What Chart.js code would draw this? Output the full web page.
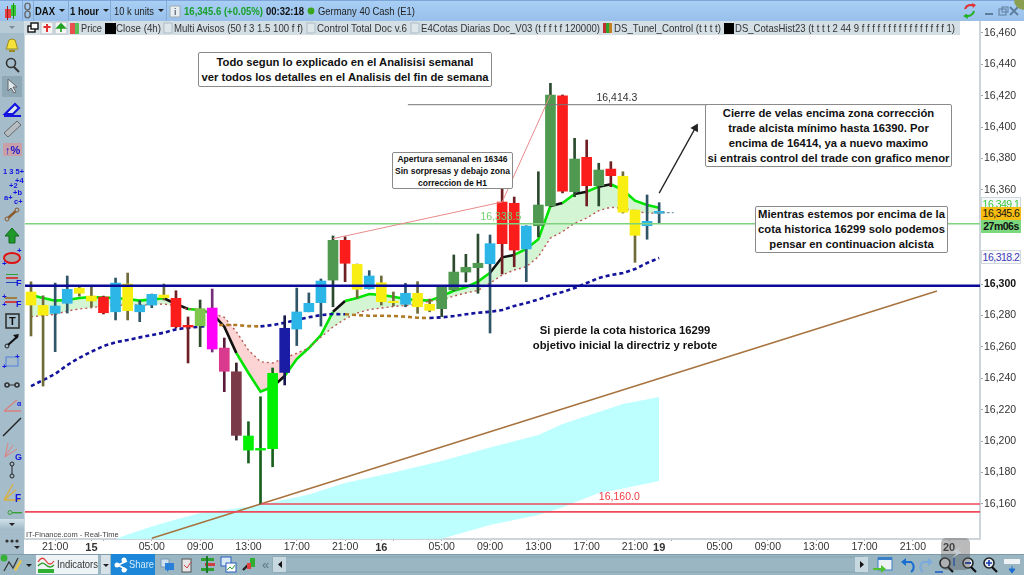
<!DOCTYPE html>
<html>
<head>
<meta charset="utf-8">
<script src="https://cdn.jsdelivr.net/npm/chart.js@4"></script>
<style>
html, body { margin: 0; padding: 0; background: #fff; width: 1024px; height: 575px; overflow: hidden; font-family: "Liberation Sans", Arial, sans-serif; }
canvas { position: absolute; left: 0; top: 0; }
svg#chrome { position: absolute; left: 0; top: 0; pointer-events: none; }
.note { position: absolute; box-sizing: border-box; background: #fff; border: 1px solid #8a8a8a; border-radius: 2px; color: #111; font-weight: bold; text-align: center; font-size: 11.25px; line-height: 15px; display: flex; align-items: center; justify-content: center; white-space: nowrap; }
.tag { position: absolute; left: 981px; width: 40px; box-sizing: border-box; font-size: 10.5px; letter-spacing: -0.5px; text-align: center; white-space: nowrap; }
</style>
</head>
<body>
<canvas id="dax" width="1024" height="575"></canvas>
<svg id="chrome" width="1024" height="575" font-family="Liberation Sans, Arial, sans-serif"></svg>

<div class="note" style="left:198px;top:52px;width:294px;height:35px">Todo segun lo explicado en el Analisisi semanal<br>ver todos los detalles en el Analisis del fin de semana</div>
<div class="note" style="left:392px;top:152px;width:121px;height:37px;font-size:8.5px;line-height:12px">Apertura semanal en 16346<br>Sin sorpresas y debajo zona<br>correccion de H1</div>
<div class="note" style="left:705px;top:104px;width:247px;height:63px">Cierre de velas encima zona corrección<br>trade alcista mínimo hasta 16390. Por<br>encima de 16414, ya a nuevo maximo<br>si entrais control del trade con grafico menor</div>
<div class="note" style="left:755px;top:206px;width:193px;height:47px">Mientras estemos por encima de la<br>cota historica 16299 solo podemos<br>pensar en continuacion alcista</div>
<div class="note" style="left:528px;top:321px;width:194px;height:34px;border:0;background:transparent">Si pierde la cota historica 16299<br>objetivo inicial la directriz y rebote</div>

<div class="tag" style="top:197px;height:12px;line-height:13px;color:#3ec83e;background:#f4f8f8;border:1px solid #cfd8dc;border-bottom:0;overflow:hidden">16,349.1</div>
<div class="tag" style="top:207px;height:13px;line-height:13px;background:#f6bc12;color:#111">16,345.6</div>
<div class="tag" style="top:220px;height:13px;line-height:13px;background:#7cd87c;color:#111;font-weight:bold">27m06s</div>
<div class="tag" style="top:250px;height:14px;line-height:12px;color:#3a3ab8;background:#fafafa;border:1px solid #cfd8dc">16,318.2</div>
<div style="position:absolute;left:26px;top:530px;font-size:7.5px;line-height:9px;color:#444">IT-Finance.com - Real-Time</div>

<script>
// DAX 1 hour candles
const high = [16301.5,16292.6,16300.7,16305.2,16298.2,16298.2,16292.4,16303.9,16307.1,16289.5,16293.7,16300.1,16295.8,16279.1,16289.9,16296.9,16265.7,16249.8,16212.4,16228.3,16246.6,16279.9,16297.5,16294.4,16303.3,16330.7,16330.2,16312.8,16308.6,16305.2,16295.0,16300.5,16301.6,16290.5,16298.2,16318.6,16319.0,16331.9,16331.3,16360.6,16355.5,16337.2,16371.6,16427.9,16420.5,16392.9,16391.8,16377.0,16378.0,16371.6,16347.2,16356.8,16351.9];
const low = [16267.0,16235.1,16257.0,16281.6,16292.4,16285.4,16281.0,16277.2,16277.2,16276.1,16285.0,16289.9,16272.1,16249.8,16260.2,16256.8,16231.5,16200.7,16186.1,16160.0,16183.7,16235.8,16260.9,16282.4,16273.3,16285.6,16301.6,16291.2,16296.9,16286.7,16286.1,16285.6,16281.4,16282.4,16279.3,16295.8,16301.4,16294.2,16268.9,16306.5,16311.1,16301.6,16330.2,16349.3,16358.1,16355.7,16349.8,16349.8,16362.1,16345.3,16313.9,16328.6,16339.1];
const bodyTop = [16295.0,16286.5,16286.1,16296.7,16297.5,16292.4,16291.8,16300.7,16300.1,16286.7,16293.5,16293.1,16291.0,16273.8,16284.4,16284.8,16259.3,16244.2,16203.3,16195.4,16243.2,16271.9,16282.3,16287.8,16302.0,16327.9,16327.9,16312.6,16305.2,16300.9,16289.1,16294.2,16294.2,16287.2,16298.0,16307.7,16310.7,16313.3,16325.8,16352.3,16351.5,16337.0,16350.4,16420.5,16420.0,16379.7,16380.8,16372.7,16373.3,16368.7,16347.2,16340.0,16346.4];
const bodyBot = [16286.7,16280.3,16281.4,16287.8,16294.2,16289.3,16281.8,16282.4,16283.1,16282.4,16286.7,16291.4,16272.9,16272.7,16273.5,16258.7,16244.5,16203.7,16194.3,16194.3,16195.2,16243.8,16271.4,16282.4,16288.2,16302.6,16313.3,16296.7,16297.1,16288.8,16288.2,16287.2,16285.6,16283.3,16284.4,16296.3,16307.7,16310.5,16313.0,16325.8,16321.7,16322.4,16337.2,16349.8,16359.3,16358.9,16362.7,16362.7,16369.1,16345.8,16331.1,16337.2,16345.1];
const candleKinds = 'YYBBYYRBYBBYRRLMPDVVVNBBBGRYBYYBYYGGGGBRRBGGRGRGRYYBB'.split('');

const bodyColors = { Y:'#f9ee12', B:'#2cb6e8', R:'#fb1c1c', G:'#4f9a50', L:'#7ec64e', M:'#ff00f8', P:'#d93a8d', D:'#7b3a47', V:'#00f000', N:'#1b1ca6' };
const wickColors = { Y:'#6f6c3a', B:'#2f5566', R:'#6e1f24', G:'#2c4a2e', L:'#2f4a2a', M:'#76307a', P:'#5a1a3a', D:'#33222a', V:'#18601c', N:'#18184e' };

// moving lines
const fastLine = [16293.1,16291.2,16289.5,16289.9,16291.2,16291.8,16291.4,16291.2,16290.5,16289.5,16290.3,16291.0,16287.4,16284.2,16283.5,16281.4,16272.9,16256.1,16243.4,16231.5,16234.7,16241.5,16252.3,16259.3,16267.6,16282.4,16289.3,16291.2,16293.7,16293.1,16292.0,16290.5,16289.9,16289.5,16292.4,16295.8,16298.0,16301.6,16307.3,16317.1,16318.6,16322.4,16328.6,16349.8,16351.7,16357.4,16358.9,16362.1,16363.6,16360.0,16353.2,16350.4,16348.7];
const slowLine = [16279.3,16279.9,16280.8,16282.9,16284.2,16285.0,16286.1,16286.5,16286.7,16286.7,16286.9,16287.4,16286.1,16284.2,16284.0,16281.4,16278.9,16269.7,16258.0,16250.6,16249.8,16253.0,16256.0,16259.3,16266.3,16272.7,16277.8,16281.6,16283.8,16284.8,16285.8,16286.4,16287.0,16289.3,16289.9,16292.4,16294.4,16296.0,16300.7,16305.8,16309.0,16311.1,16317.5,16329.4,16333.4,16338.8,16342.1,16346.8,16349.0,16348.3,16346.6,16345.1,16345.5];
const tunnelLine = [16235.1,16238.9,16242.8,16248.5,16253.1,16257.0,16260.6,16263.0,16264.4,16266.1,16267.6,16269.1,16271.2,16272.3,16272.9,16274.0,16274.0,16274.0,16273.3,16273.1,16274.0,16275.4,16277.2,16278.9,16280.3,16281.0,16280.8,16280.3,16279.9,16279.9,16279.7,16279.3,16278.6,16278.4,16278.9,16279.7,16280.8,16281.8,16282.4,16283.5,16286.1,16288.0,16290.2,16293.1,16295.0,16297.5,16300.7,16303.9,16305.8,16307.1,16309.6,16313.5,16316.7];
const fastBlackSegments = [11,12,15,16,20,25,38,39,43,45,47];
const tunnelBrownSegments = [15,16,17,18,26,27,28,29,30,31,32];

// light blue band
const bandIdx = [7,8,10,12,14,16,19,23,26,30,34,38,42,44,47,49,52];
const bandTop = [16137.7,16140.5,16145.6,16150.1,16154.2,16156.1,16159.3,16166.0,16173.3,16180.0,16187.3,16196.0,16203.9,16210.9,16218.6,16223.7,16228.1];
const bandBot = [16137.7,16137.7,16137.7,16137.7,16137.7,16137.7,16137.7,16137.7,16137.7,16137.7,16137.9,16146.6,16153.0,16158.0,16167.0,16169.8,16174.6];

// drawn levels and lines
const levelHistoric = 16299;
const levelGreen = 16338.5;
const levelHigh = 16414.3;
const levelLow = 16160;
const levelRed = 16155;
const lastPrice = 16345.6;
const trendIdx = [10, 75];
const trendVal = [16138.2, 16295.6];
const pinkIdx = [25, 39, 43];
const pinkVal = [16329, 16352.3, 16420.5];
const arrowIdx = [52, 55];
const arrowVal = [16358, 16399.5];

// axes
const priceTicks = [16460,16440,16420,16400,16380,16360,16300,16280,16260,16240,16220,16200,16180,16160];
const timeIdx = [2,5,6,10,14,18,22,26,29,30,34,38,42,46,50,52,53,57,61,65,69,73,76];
const timeLabels = ['21:00','15','','05:00','09:00','13:00','17:00','21:00','16','','05:00','09:00','13:00','17:00','21:00','19','','05:00','09:00','13:00','17:00','21:00','20'];
const dayLabels = ['15','16','19','20'];

function pts(xs, ys) { return xs.map((x, i) => ({ x: x, y: ys[i] })); }
function flat(x0, x1, v) { return [{ x: x0, y: v }, { x: x1, y: v }]; }
const idxAll = high.map((v, i) => i);
const xMin = -0.58, xMax = 78.56;
const yMin = 16137.7, yMax = 16467.6;
const axisFamily = '"Liberation Sans", Arial, sans-serif';

function isDayTick(c) {
    return !!c.tick && dayLabels.includes(timeLabels[timeIdx.indexOf(c.tick.value)]);
}
function isBoldPrice(c) {
    return !!c.tick && c.tick.value === 16300;
}
function plainLine(data, color, width, order, extra) {
    return Object.assign({ type: 'line', data: data, borderColor: color, borderWidth: width, pointRadius: 0, tension: 0, fill: false, order: order }, extra || {});
}

const datasets = [
    plainLine(pts(bandIdx, bandTop), 'rgba(0,0,0,0)', 0, 100, { fill: '+1', backgroundColor: '#bdffff' }),
    plainLine(pts(bandIdx, bandBot), 'rgba(0,0,0,0)', 0, 101),
    plainLine(pts(trendIdx, trendVal), '#a8733f', 1.6, 90),
    // cloud between the two lines, kept apart from the coloured line so it has no seams
    plainLine(pts(idxAll, fastLine), 'rgba(0,0,0,0)', 0, 55, {
        fill: { target: '+2', above: 'rgba(170,235,170,0.5)', below: 'rgba(250,170,170,0.5)' }
    }),
    plainLine(pts(idxAll, fastLine), '#00e400', 2.6, 50, {
        segment: { borderColor: c => fastBlackSegments.includes(c.p0DataIndex) ? '#111' : '#00e400' }
    }),
    plainLine(pts(idxAll, slowLine), '#b85a52', 1.4, 49, { borderDash: [2, 3] }),
    plainLine(pts(idxAll, tunnelLine), '#12129a', 2.6, 48, {
        borderDash: [4, 3],
        segment: { borderColor: c => tunnelBrownSegments.includes(c.p0DataIndex) ? '#b07a25' : '#12129a' }
    }),
    {
        type: 'bar', data: idxAll.map(i => ({ x: i, y: [low[i], high[i]] })), barThickness: 2, grouped: false, order: 20,
        backgroundColor: candleKinds.map(k => wickColors[k])
    },
    {
        type: 'bar', data: idxAll.map(i => ({ x: i, y: [bodyBot[i], bodyTop[i]] })), barThickness: 10, grouped: false, order: 10,
        backgroundColor: candleKinds.map(k => bodyColors[k])
    },
    plainLine(pts(pinkIdx, pinkVal), '#e88a8a', 1, 6),
    plainLine(flat(xMin, xMax, levelGreen), '#7fd27f', 1.6, 7),
    plainLine(flat(31.2, 66.5, levelHigh), '#777', 1, 5),
    plainLine(flat(19, xMax, levelLow), '#ee4a5a', 1.6, 5),
    plainLine(flat(xMin, xMax, levelRed), '#ee4a5a', 1.6, 5),
    plainLine(flat(xMin, xMax, levelHistoric), '#0a0a96', 2.6, 4),
    plainLine(flat(51.8, 53.2, lastPrice), '#7a9aaa', 1.2, 3, { borderDash: [3, 2] }),
    plainLine(pts(arrowIdx, arrowVal), '#222', 1.3, 2, {
        pointStyle: 'triangle', pointRotation: 29, backgroundColor: '#222', pointBorderWidth: 0,
        pointRadius: c => c.dataIndex === 1 ? 5 : 0
    })
];

// price notes next to the drawn levels
const noteTexts = ['16,414.3', '16,160.0', '16,338.5'];
const noteIdx = [48.5, 48.7, 38.9];
const noteVal = [levelHigh + 4.4, levelLow + 4.3, levelGreen + 4.2];
const noteColors = ['#333', '#f03a40', '#6fd06f'];
const levelNotes = {
    id: 'levelNotes',
    afterDatasetsDraw(chart) {
        const c = chart.ctx;
        c.save();
        c.font = '10.5px ' + axisFamily;
        c.textAlign = 'center';
        c.textBaseline = 'middle';
        noteTexts.forEach((t, i) => {
            c.fillStyle = noteColors[i];
            c.fillText(t, chart.scales.x.getPixelForValue(noteIdx[i]), chart.scales.y.getPixelForValue(noteVal[i]));
        });
        c.restore();
    }
};

new Chart(document.getElementById('dax').getContext('2d'), {
    data: { datasets: datasets },
    plugins: [levelNotes],
    options: {
        responsive: false,
        animation: false,
        devicePixelRatio: 1,
        layout: { padding: { left: 24, top: 21, right: 0, bottom: 21 } },
        plugins: { legend: { display: false }, tooltip: { enabled: false } },
        elements: { bar: { borderWidth: 0, borderSkipped: false } },
        scales: {
            x: {
                type: 'linear', min: xMin, max: xMax, offset: false,
                grid: { display: true, offset: false, drawOnChartArea: false, tickLength: 2, color: '#9aa9b2' },
                border: { color: '#cdd5da', width: 2 },
                afterFit: s => { s.height = 15; s.paddingLeft = 0; s.paddingRight = 0; },
                afterBuildTicks: s => { s.ticks = timeIdx.map(v => ({ value: v })); },
                ticks: {
                    autoSkip: false, maxRotation: 0, padding: 0, color: '#333',
                    font: c => ({ family: axisFamily, size: isDayTick(c) ? 11 : 10.5, weight: isDayTick(c) ? 'bold' : 'normal' }),
                    callback: v => timeLabels[timeIdx.indexOf(v)]
                }
            },
            y: {
                type: 'linear', position: 'right', min: yMin, max: yMax,
                grid: { display: true, drawOnChartArea: false, tickLength: 3, color: '#9aa9b2' },
                border: { color: '#cdd5da', width: 2 },
                afterFit: s => { s.width = 44; s.paddingTop = 0; s.paddingBottom = 0; },
                afterBuildTicks: s => { s.ticks = priceTicks.map(v => ({ value: v })); },
                ticks: {
                    autoSkip: false, padding: 1, color: c => isBoldPrice(c) ? '#111' : '#333',
                    font: c => ({ family: axisFamily, size: 10.5, weight: isBoldPrice(c) ? 'bold' : 'normal' }),
                    callback: v => v.toLocaleString('en-US')
                }
            }
        }
    }
});

// ---- window furniture around the chart
const legendItems = [
    ['Price', 81, 21], ['Close (4h)', 116, 45], ['Multi Avisos (50 f 3 1.5 100 f f)', 174, 129],
    ['Control Total Doc v.6', 317, 90], ['E4Cotas Diarias Doc_V03 (t f f t f 120000)', 421, 179],
    ['DS_Tunel_Control (t t t t)', 614, 107], ['DS_CotasHist23 (t t t t 2 44 9 f f f f f f f f f f f f f f f f 1)', 735, 220]
];
const svgText = (t, x, y, w, size, fill, bold) => `<text x="${x}" y="${y}" font-size="${size}" fill="${fill}"${bold ? ' font-weight="bold"' : ''}${w ? ` textLength="${w}" lengthAdjust="spacingAndGlyphs"` : ''}>${t}</text>`;
const box = (x, y, w, h, fill, extra) => `<rect x="${x}" y="${y}" width="${w}" height="${h}" fill="${fill}" ${extra || ''}/>`;
const chev = (x, y, c) => `<path d="M${x} ${y}h6l-3 3z" fill="${c || '#222'}"/>`;

let s = '<defs>' +
    '<linearGradient id="topg" x1="0" y1="0" x2="0" y2="1"><stop offset="0" stop-color="#a9cff5"/><stop offset="1" stop-color="#98c0ea"/></linearGradient>' +
    '<linearGradient id="btn" x1="0" y1="0" x2="0" y2="1"><stop offset="0" stop-color="#cfe0e8"/><stop offset="1" stop-color="#9fb9c6"/></linearGradient>' +
    '</defs>';
// top bar
s += box(0, 0, 1024, 21, 'url(#topg)') + box(0, 0, 1024, 1, '#7ea6d8');
s += box(5, 9, 6, 9, '#e84040') + box(11, 5, 5, 11, '#36c836') + box(7, 6, 1, 14, '#a02020') + box(13, 3, 1, 16, '#1a8a1a');
s += '<path d="M25 5a2.6 2.6 0 0 1 5 0v3a2.6 2.6 0 0 1-5 0zM25 13a2.6 2.6 0 0 1 5 0v3a2.6 2.6 0 0 1-5 0z" fill="none" stroke="#666" stroke-width="1.4"/>';
[22, 33, 68, 110, 166].forEach(x => { s += box(x, 1, 1, 20, '#86aad6'); });
s += svgText('DAX', 35, 15, 20, 11, '#111', true) + chev(59, 9);
s += svgText('1 hour', 70, 15, 29, 11, '#111', true) + chev(103, 9);
s += svgText('10 k units', 114, 15, 40, 11, '#222') + chev(158, 9);
s += box(170, 6, 10, 11, '#e6eef2', 'stroke="#a0aab0"') + svgText('i', 174, 15, 0, 9, '#667', true);
s += svgText('16,345.6 (+0.05%)', 184, 15, 79, 11, '#18a02a', true);
s += svgText('00:32:18', 266, 15, 38, 11, '#111', true);
s += '<circle cx="311" cy="11" r="3.4" fill="#3aa51e"/>';
s += svgText('Germany 40 Cash (E1)', 318, 15, 97, 11, '#222');
// window buttons top right
s += '<path d="M965 9a6 6 0 0 1 9-3" fill="none" stroke="#e03030" stroke-width="2"/><path d="M972 3l4 2-3 3z" fill="#e03030"/>';
s += '<path d="M974 11a6 6 0 0 1-9 4" fill="none" stroke="#22b022" stroke-width="2"/><path d="M968 19l-5-3 4-2z" fill="#22b022"/>';
s += box(985, 13, 8, 2, '#5c7c9c') + box(999, 9, 7, 6, 'none', 'stroke="#5c7c9c"') + box(1002, 7, 6, 5, 'none', 'stroke="#5c7c9c"');
s += '<path d="M1010 7l8 8M1018 7l-8 8" stroke="#5c7c9c" stroke-width="1.8"/>';
s += '<path d="M1014 0h10v10a10 10 0 0 1-10-10z" fill="#8aa050"/>';
// legend strip
s += box(24, 21, 936, 14, '#d3dfe5');
s += box(28, 26, 7, 6, '#fff', 'stroke="#111" stroke-width="1.4"') + box(31, 23, 7, 6, '#fff', 'stroke="#111" stroke-width="1.4"');
s += box(41, 22, 12, 12, '#f4f4f4', 'stroke="#b8c4cc"') + '<path d="M47 24v8M43.5 27h7" stroke="#e03030" stroke-width="2"/>';
s += box(55, 22, 12, 12, '#f4f4f4', 'stroke="#b8c4cc"') + '<path d="M61 32v-5M57 28l4-4 4 4z" stroke="#20a020" stroke-width="1.6" fill="#20a020"/>';
s += box(70, 23, 5, 11, '#e85050') + box(75, 23, 4, 11, '#58c058');
legendItems.forEach((it, i) => {
    s += svgText(it[0], it[1], 32, it[2], 10.5, '#333');
    if (i) s += box(it[1] - 3, 21, 1, 14, '#eef3f6');
});
s += box(105, 23, 11, 11, '#000');
[164, 307, 411].forEach(x => { s += box(x, 23, 8, 10, '#dde6eb', 'stroke="#b0bcc4"'); });
s += box(603, 23, 3, 10, '#c03030') + box(606, 23, 3, 10, '#30a030') + box(609, 23, 3, 10, '#c08020');
s += box(724, 23, 10, 11, '#000');
// left tools
s += box(0, 21, 24, 518, '#a5bdcb') + box(24, 35, 1, 504, '#c8d6dd');
const ink = 'fill="none" stroke="#333" stroke-width="1.6"';
s += box(0, 21, 24, 12, '#b6cbd6') + chev(9, 26, '#7c8c94');
s += '<path d="M6 49q1-1 2-6a4 4 0 0 1 8 0q1 5 2 6z" fill="#f6e23a" stroke="#9a8a20"/>' + box(9, 50, 6, 2, '#9a8a20');
s += `<circle cx="11" cy="63" r="4.5" ${ink}/><path d="M14 67l5 5" stroke="#333" stroke-width="2"/>`;
s += box(2, 76, 20, 21, '#8fa8b6') + '<path d="M8 79l0 12 3-3 3 5 2-1-3-5h4z" fill="#dfe8ec" stroke="#666"/>';
s += '<path d="M5 114l10-10 4 4-6 6zM4 116h17" stroke="#1414e0" stroke-width="2.2" fill="#dfe8ec"/>';
s += '<path d="M4 133l13-12 4 4-13 12z" fill="#b5bdc2" stroke="#666"/>';
s += box(3, 143, 19, 13, '#c9a0a8') + svgText('↑%', 5, 154, 0, 11, '#1414d0', true);
s += svgText('1 3 5+', 3, 174, 0, 7.5, '#1414e0', true) + svgText('+4', 15, 183, 0, 7.5, '#1414e0', true) + svgText('+2', 9, 188, 0, 7.5, '#1414e0', true) + svgText('+b', 13, 195, 0, 7.5, '#1414e0', true) + svgText('a+', 4, 200, 0, 7.5, '#1414e0', true) + svgText('c+', 14, 204, 0, 7.5, '#1414e0', true);
s += '<path d="M7 219l10-9" stroke="#8a5a2a" stroke-width="2.4"/><circle cx="7" cy="219" r="2" fill="#a5bdcb" stroke="#8a5a2a"/><circle cx="17" cy="210" r="2" fill="#a5bdcb" stroke="#8a5a2a"/>';
s += '<path d="M12 228l7 8h-4v7h-6v-7h-4z" fill="#1f9a2a" stroke="#136a1a"/>';
s += '<ellipse cx="12" cy="258" rx="8" ry="5" fill="#a8a8a8" stroke="#e01010" stroke-width="2"/>' + svgText('+', 17, 253, 0, 8, '#1414e0', true) + svgText('+', 2, 266, 0, 8, '#1414e0', true);
s += box(6, 274, 12, 1, '#30a030') + box(6, 277, 12, 2, '#d04040') + box(6, 282, 12, 1, '#2040c0') + svgText('F', 16, 286, 0, 9, '#1414e0', true);
s += box(5, 297, 12, 2, '#a08040') + box(5, 301, 12, 2, '#d04040') + svgText('F', 16, 307, 0, 9, '#1414e0', true) + svgText('+', 2, 299, 0, 8, '#1414e0', true) + svgText('+', 2, 307, 0, 8, '#1414e0', true);
s += box(6, 314, 13, 14, 'none', 'stroke="#333" stroke-width="1.6"') + svgText('T', 9, 325, 0, 11, '#111', true);
s += '<circle cx="7" cy="346" r="2" fill="none" stroke="#222"/><path d="M8 345l10-9" stroke="#111" stroke-width="2"/><path d="M19 334l-6 1 4 4z" fill="#111"/>';
s += box(6, 357, 12, 9, 'none', `stroke="#5080d8"`) + svgText('+', 2, 369, 0, 8, '#1414e0', true) + svgText('+', 15, 359, 0, 8, '#1414e0', true);
s += `<circle cx="7" cy="385" r="2" ${ink}/><circle cx="17" cy="385" r="2" ${ink}/><path d="M9 385h6" stroke="#333"/>`;
s += '<path d="M4 411l13-11M4 411h17" stroke="#d88080" stroke-width="1.4" fill="none"/>' + svgText('α', 17, 406, 0, 7, '#1414e0', true);
s += '<path d="M3 436l18-18" stroke="#222" stroke-width="1.4"/>';
s += '<path d="M5 457l8-12M5 457l12-8M5 457l3-14" stroke="#e08080" stroke-width="1"/>' + svgText('G', 15, 460, 0, 9, '#1414e0', true);
s += `<circle cx="12" cy="464" r="2" fill="none" stroke="#222"/><circle cx="12" cy="476" r="2" fill="none" stroke="#222"/><path d="M12 466v8" stroke="#222"/>`;
s += '<path d="M4 500l9-16M4 500l12-10M4 500h16" stroke="#d8b040" stroke-width="1.4"/>' + svgText('F', 15, 502, 0, 10, '#1414e0', true);
s += '<circle cx="10" cy="512.5" r="2" fill="none" stroke="#36a036"/>' + box(12, 512, 10, 1.4, '#36a036');
s += box(0, 519, 24, 11, 'url(#btn)') + chev(9, 523);
s += box(0, 530, 24, 24, '#a5bdcb');
s += '<circle cx="7" cy="541" r="1.6" fill="#333"/><circle cx="12" cy="541" r="1.6" fill="#333"/><circle cx="17" cy="541" r="1.6" fill="#333"/>' + chev(14, 546);
// bottom tools
s += box(0, 554, 1024, 21, '#9ab6c3') + box(0, 554, 1024, 1, '#7f9aa8');
s += '<circle cx="4" cy="558" r="3.5" fill="#38b038"/><path d="M4 571l5-9 4 6 5-10" fill="none" stroke="#333" stroke-width="1.2"/><path d="M14 570l6-10 2 1-6 10z" fill="#e8c840"/>' + chev(26, 564);
s += box(36, 555, 62, 19, '#eef3f5');
s += '<path d="M38 562q4-7 8-1t8 0" fill="none" stroke="#e04040" stroke-width="1.3"/><path d="M38 566q4-5 8-1t8 0" fill="none" stroke="#30a030" stroke-width="1.3"/>' + box(38, 569, 16, 4, '#30b030');
s += svgText('Indicators', 57, 568, 41, 11, '#333');
s += box(101, 555, 9, 19, '#d6e2e8') + chev(103, 564);
s += box(111, 554, 44, 21, '#1c86d8');
s += '<path d="M127 561l-9 4 9 5" fill="none" stroke="#fff" stroke-width="1.6"/><circle cx="124" cy="560" r="2.5" fill="#fff"/><circle cx="117" cy="565" r="2.5" fill="#fff"/><circle cx="124" cy="570" r="2.5" fill="#fff"/>';
s += svgText('Share', 129, 568, 25, 11, '#d5ecfb');
s += '<path d="M161 559h8v8h-8z" fill="#cfe0ee" stroke="#7a9ab4"/><path d="M165 563h9v7h-5l-2 2v-2h-2z" fill="#2a80d8"/>';
s += box(182, 559, 9, 13, '#e6e6e6', 'stroke="#555"') + '<path d="M184 565l3 3 4-6" stroke="#d04040" fill="none"/>';
s += box(201, 558, 13, 3, '#30a030') + box(205, 563, 10, 3, '#d04040') + box(201, 568, 13, 3, '#30a030') + box(206, 556, 2, 17, '#1a7a2a');
s += box(221, 557, 10, 9, '#d8e8f4', 'stroke="#2a60c0"') + box(226, 563, 10, 9, '#fff', 'stroke="#2a60c0"') + '<path d="M227 570l3-3 2 2 3-4" stroke="#30a030" fill="none"/>';
s += '<path d="M243 570l5-5" stroke="#222" stroke-width="2.4"/>' + box(250, 558, 5, 9, '#30b030') + box(247, 563, 4, 6, '#e04040');
s += svgText('«', 262, 569, 0, 13, '#5a7888');
s += box(273, 557, 590, 15, '#9ab6c3', 'stroke="#86a2b0"') + box(273, 557, 13, 15, '#c8d8e0') + '<path d="M282 561v7l-4-3.5z" fill="#111"/>';
s += box(855, 557, 13, 15, '#c8d8e0') + '<path d="M860 561v7l4-3.5z" fill="#111"/>';
s += box(878, 558, 14, 12, '#eef2f4', 'stroke="#3a80c8"') + box(878, 557, 14, 3, '#3a80c8') + '<path d="M873 568h8v-3l5 4-5 4v-3h-8z" fill="#50c030"/>';
s += '<path d="M911 572a6 6 0 0 0 0-10h-7" fill="none" stroke="#1a6ed0" stroke-width="2"/><path d="M901 562l5-4v8z" fill="#1a6ed0"/>';
s += '<path d="M923 572a6 6 0 0 1 0-10h7" fill="none" stroke="#7aaadc" stroke-width="2"/><path d="M933 562l-5-4v8z" fill="#7aaadc"/>';
const zoomIcon = (x, sign) => `<circle cx="${x}" cy="563" r="5" fill="#e8eef2" stroke="#222" stroke-width="1.6"/><path d="M${x + 3} 567l5 5" stroke="#111" stroke-width="2.2"/>` + sign;
s += zoomIcon(945, '<path d="M935 572h8M954 558v8" stroke="#1a5ad0" stroke-width="1.6"/>');
s += zoomIcon(968, box(965, 562, 6, 2, '#1a3ab0'));
s += zoomIcon(989, '<path d="M986 563h6M989 560v6" stroke="#1a3ab0" stroke-width="1.6"/>');
s += box(1004, 559, 16, 5, '#eef2f4') + '<path d="M1012 566v4M1009 569l3 4 3-4z" fill="#1a6ed0" stroke="#1a6ed0"/>';
// lightning badge
s += box(941, 538, 29, 32, 'rgba(90,90,90,0.42)', 'rx="5"') + '<path d="M961 547l-9 5 5 1-5 5 10-6-5-1z" fill="#c6cfd4"/>';
document.getElementById('chrome').innerHTML = s;
</script>
</body>
</html>
